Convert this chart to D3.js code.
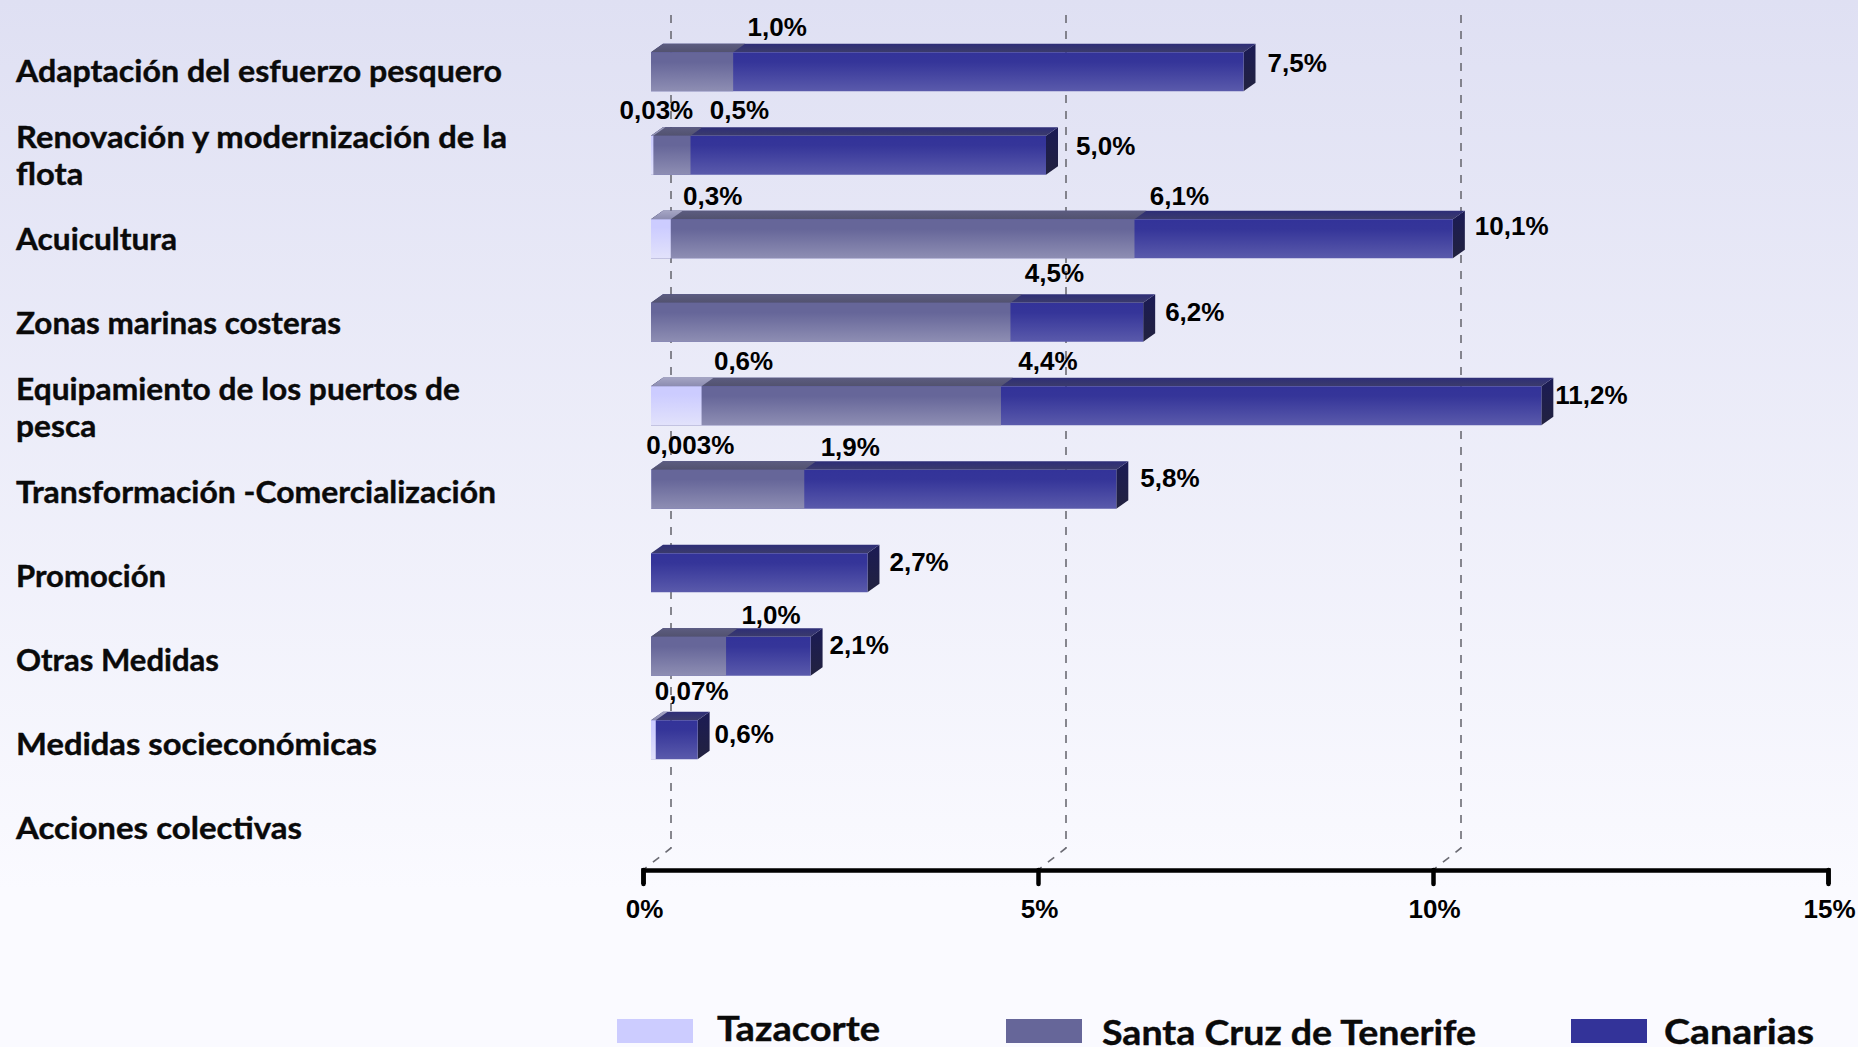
<!DOCTYPE html>
<html>
<head>
<meta charset="utf-8">
<script src="https://cdn.jsdelivr.net/npm/d3@7"></script>
<style>
  html, body { margin: 0; padding: 0; background: #fafaff; }
  svg { display: block; }
  .cat { font-family: Lato, sans-serif; font-weight: 700; fill: #0a0a0a; stroke: #0a0a0a; stroke-width: 0.4px; }
  .val { font-family: "Liberation Sans", Arial, sans-serif; font-weight: 700; font-size: 26px; fill: #000; }
</style>
</head>
<body>
<svg id="chart" width="1858" height="1047"></svg>
<script>
/* --- data --- */
const categories = [
  "Adaptación del esfuerzo pesquero",
  "Renovación y modernización de la flota",
  "Acuicultura",
  "Zonas marinas costeras",
  "Equipamiento de los puertos de pesca",
  "Transformación -Comercialización",
  "Promoción",
  "Otras Medidas",
  "Medidas socieconómicas",
  "Acciones colectivas"
];
const categoryLines = [
  ["Adaptación del esfuerzo pesquero"],
  ["Renovación y modernización de la", "flota"],
  ["Acuicultura"],
  ["Zonas marinas costeras"],
  ["Equipamiento de los puertos de", "pesca"],
  ["Transformación -Comercialización"],
  ["Promoción"],
  ["Otras Medidas"],
  ["Medidas socieconómicas"],
  ["Acciones colectivas"]
];
// bars overlap from zero, each one ends at its own value
const tazacorte = [0, 0.03, 0.25, 0, 0.64, 0.003, 0, 0, 0.06, 0];
const santaCruz = [1.04, 0.5, 6.12, 4.55, 4.43, 1.94, 0, 0.95, 0, 0];
const canarias  = [7.5, 5.0, 10.15, 6.23, 11.27, 5.89, 2.74, 2.02, 0.59, 0];

const tazacorteLabels = [null, "0,03%", "0,3%", null, "0,6%", "0,003%", null, null, "0,07%", null];
const santaCruzLabels = ["1,0%", "0,5%", "6,1%", "4,5%", "4,4%", "1,9%", null, "1,0%", null, null];
const canariasLabels  = ["7,5%", "5,0%", "10,1%", "6,2%", "11,2%", "5,8%", "2,7%", "2,1%", "0,6%", null];

const xTicks = [0, 5, 10, 15];
const gridTicks = [0, 5, 10];
const legendNames = ["Tazacorte", "Santa Cruz de Tenerife", "Canarias"];

/* --- layout --- */
const WIDTH = 1858, HEIGHT = 1047;
const AXIS_Y = 870;
const FRONT_DX = 8;            // bars sit a little in front of the back wall
const DEPTH_X = 12, DEPTH_Y = 8.5;
const WALL_DX = 28, WALL_DY = 22;
const BAR_H = 39;

// small hand nudges for the value labels, same order as categories
const tazLabelDx = [0, 3, 42, 0, 42, 39, 0, 0, 36, 0];
const tazLabelDy = [0, -26, -23, 0, -25, -25, 0, 0, -29, 0];
const scLabelDx = [44, 49, 45, 44, 47, 46, 0, 45, 0, 0];
const scLabelDy = [-25, -26, -23, -30, -25, -23, 0, -22, 0, 0];
const endLabelDx = [24, 30, 22, 22, 14, 24, 22, 19, 17, 0];
const endLabelDy = [11, 10, 7, 9, 9, 8, 9, 8, 14, 0];
const catWidths = [486, 491, 161, 325, 444, 480, 150, 203, 361, 286];

const svg = d3.select("#chart");
const x = d3.scaleLinear().domain([0, 15]).range([643, 1828]);
const yBar = d3.scaleBand().domain(categories).range([30, 865]);
const yCat = d3.scaleBand().domain(categories).range([29.5, 870.5]);

/* --- gradients --- */
const defs = svg.append("defs");
function addGradient(id, stops) {
  const g = defs.append("linearGradient").attr("id", id)
    .attr("x1", 0).attr("y1", 0).attr("x2", 0).attr("y2", 1);
  stops.forEach(s => g.append("stop").attr("offset", s[0]).attr("stop-color", s[1]));
}
addGradient("bg", [[0, "#dfe0f3"], [0.85, "#fafaff"], [1, "#fafaff"]]);
addGradient("frontTaz", [[0, "#ccccff"], [0.2, "#ccccff"], [1, "#e2e2fb"]]);
addGradient("frontSc", [[0, "#666699"], [0.25, "#666699"], [1, "#8e8eb3"]]);
addGradient("frontCa", [[0, "#333399"], [0.25, "#353599"], [1, "#5a5aab"]]);
addGradient("topTaz", [[0, "#a5a5c4"], [1, "#8c8cb0"]]);
addGradient("topSc", [[0, "#5c5c80"], [1, "#52526f"]]);
addGradient("topCa", [[0, "#2e2e78"], [1, "#3b3b6b"]]);
addGradient("sideCa", [[0, "#1b1b55"], [1, "#22223f"]]);

svg.append("rect").attr("width", WIDTH).attr("height", HEIGHT).attr("fill", "url(#bg)");

/* --- dashed back wall lines --- */
svg.append("g").selectAll("path")
  .data(gridTicks).join("path")
  .attr("d", d => `M ${x(d) + WALL_DX} 15 V ${AXIS_Y - WALL_DY} L ${x(d)} ${AXIS_Y}`)
  .attr("fill", "none")
  .attr("stroke", "#6b6b73")
  .attr("stroke-width", 1.6)
  .attr("stroke-dasharray", "8,8");

/* --- bars --- */
function frontY(cat) { return yBar(cat) + yBar.bandwidth() / 2 - BAR_H / 2; }

function drawSeries(values, name) {
  const rows = categories.map((c, i) => ({ cat: c, v: values[i] })).filter(d => d.v > 0);
  const g = svg.append("g");
  g.selectAll("path.top").data(rows).join("path").attr("class", "top")
    .attr("d", d => {
      const y0 = frontY(d.cat), x0 = x(0) + FRONT_DX, x1 = x(d.v) + FRONT_DX;
      return `M ${x0} ${y0} L ${x0 + DEPTH_X} ${y0 - DEPTH_Y} L ${x1 + DEPTH_X} ${y0 - DEPTH_Y} L ${x1} ${y0} Z`;
    })
    .attr("fill", `url(#top${name})`);
  g.selectAll("rect").data(rows).join("rect")
    .attr("x", x(0) + FRONT_DX)
    .attr("y", d => frontY(d.cat))
    .attr("width", d => x(d.v) - x(0))
    .attr("height", BAR_H)
    .attr("fill", `url(#front${name})`);
}

// side face only on the longest bar of each row
const sideRows = categories.map((c, i) => ({ cat: c, v: canarias[i] })).filter(d => d.v > 0);
svg.append("g").selectAll("path")
  .data(sideRows).join("path")
  .attr("d", d => {
    const y0 = frontY(d.cat), x1 = x(d.v) + FRONT_DX;
    return `M ${x1} ${y0} L ${x1 + DEPTH_X} ${y0 - DEPTH_Y} V ${y0 + BAR_H - DEPTH_Y} L ${x1} ${y0 + BAR_H} Z`;
  })
  .attr("fill", "url(#sideCa)");

drawSeries(canarias, "Ca");
drawSeries(santaCruz, "Sc");
drawSeries(tazacorte, "Taz");

/* --- axis --- */
const xAxis = d3.axisBottom(x).tickValues(xTicks).tickFormat(d => d + "%").tickSize(14).tickPadding(16);
const axisG = svg.append("g").attr("transform", `translate(0,${AXIS_Y})`).call(xAxis);
axisG.select(".domain").attr("stroke", "#000").attr("stroke-width", 4.5);
axisG.selectAll(".tick line").attr("stroke", "#000").attr("stroke-width", 4.5).attr("stroke-linecap", "round");
axisG.selectAll(".tick text").attr("class", "val").attr("fill", "#000").attr("dx", 1);

/* --- value labels --- */
function valueLabels(values, labels, dxs, dys, anchor) {
  const rows = categories.map((c, i) => ({ cat: c, v: values[i], label: labels[i], dx: dxs[i], dy: dys[i] }))
    .filter(d => d.label);
  svg.append("g").selectAll("text")
    .data(rows).join("text")
    .attr("class", "val")
    .attr("x", d => x(d.v) + FRONT_DX + d.dx)
    .attr("y", d => frontY(d.cat) + d.dy)
    .attr("dy", "0.35em")
    .attr("text-anchor", anchor)
    .text(d => d.label);
}
valueLabels(tazacorte, tazacorteLabels, tazLabelDx, tazLabelDy, "middle");
valueLabels(santaCruz, santaCruzLabels, scLabelDx, scLabelDy, "middle");
valueLabels(canarias, canariasLabels, endLabelDx, endLabelDy, "start");

/* --- category labels --- */
const LINE_H = 37;
const catG = svg.append("g");
function measure(s) {
  const t = catG.append("text").attr("class", "cat").attr("font-size", 31).text(s);
  const w = t.node().getComputedTextLength();
  t.remove();
  return w;
}
categories.forEach((c, i) => {
  const lines = categoryLines[i];
  const mid = yCat(c) + yCat.bandwidth() / 2;
  // first line fitted to the measured width, the second keeps the same squeeze
  const squeeze = catWidths[i] / measure(lines[0]);
  lines.forEach((line, j) => {
    catG.append("text")
      .attr("class", "cat")
      .attr("x", 16)
      .attr("y", mid + 10.5 + (j - (lines.length - 1) / 2) * LINE_H)
      .attr("font-size", 31)
      .attr("textLength", measure(line) * squeeze)
      .attr("lengthAdjust", "spacingAndGlyphs")
      .text(line);
  });
});

/* --- legend --- */
const legendFill = ["#ccccff", "#666699", "#333399"];
const legendX = [617, 1006, 1571];
const legendTextX = [717, 1102, 1664];
const legendTextW = [163, 374, 150];
const legendBase = [1041, 1045, 1044];
const legend = svg.append("g");
legendNames.forEach((name, i) => {
  legend.append("rect")
    .attr("x", legendX[i]).attr("y", 1019)
    .attr("width", 76).attr("height", 24)
    .attr("fill", legendFill[i]);
  legend.append("text")
    .attr("class", "cat")
    .attr("x", legendTextX[i]).attr("y", legendBase[i])
    .attr("font-size", 35)
    .attr("textLength", legendTextW[i])
    .attr("lengthAdjust", "spacingAndGlyphs")
    .text(name);
});
</script>
</body>
</html>
